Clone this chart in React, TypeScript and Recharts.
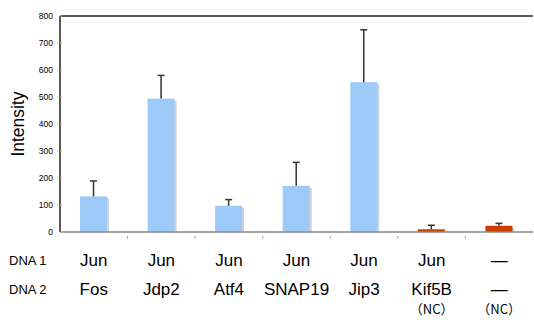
import React from "react";
import { BarChart, Bar, XAxis, YAxis, Cell, ReferenceLine } from "recharts";

const dna1 = ["Jun", "Jun", "Jun", "Jun", "Jun", "Jun", "—"];
const dna2 = ["Fos", "Jdp2", "Atf4", "SNAP19", "Jip3", "Kif5B", "—"];
const notes = ["", "", "", "", "", "（NC）", "（NC）"];
const values = [132, 494, 97, 171, 555, 10, 23];
const errorsUp = [57, 86, 23, 87, 194, 15, 9];
const barColors = ["#9ecafa", "#9ecafa", "#9ecafa", "#9ecafa", "#9ecafa", "#cc3d00", "#cc3d00"];
const yTicks = [0, 100, 200, 300, 400, 500, 600, 700, 800];

const data = dna2.map((name, i) => ({
  name,
  value: values[i],
  err: errorsUp[i],
}));

const FONT = "'Liberation Sans', Arial, sans-serif";
const CJK = "'Noto Sans CJK JP', sans-serif";

const ShadowBar = (props: any) => {
  const { x, y, width, height, fill, payload } = props;
  if (height <= 0) return null;
  const pxPerUnit = height / payload.value;
  const errTop = y - payload.err * pxPerUnit;
  const cx = x + width / 2;
  return (
    <g>
      <rect x={x + 2} y={y + 2} width={width} height={Math.max(0, height - 2)} fill="#d2d2d2" />
      <rect x={x} y={y} width={width} height={height} fill={fill} />
      <line x1={cx} x2={cx} y1={y} y2={errTop} stroke="#333" strokeWidth={1.5} />
      <line x1={cx - 3.5} x2={cx + 3.5} y1={errTop} y2={errTop} stroke="#333" strokeWidth={1.5} />
    </g>
  );
};

const XTick = (props: any) => {
  const { x, y, payload } = props;
  const i = payload.index;
  const band = 473 / 7;
  return (
    <g>
      {i < 6 && <line x1={x + band / 2} x2={x + band / 2} y1={y - 1} y2={y - 4} stroke="#aaa" />}
      {i === 0 && (
        <>
          <text x={9} y={265} fontSize={13} fontFamily={FONT} fill="#000">DNA 1</text>
          <text x={9} y={294} fontSize={13} fontFamily={FONT} fill="#000">DNA 2</text>
        </>
      )}
      <text x={x} y={266} textAnchor="middle" fontSize={17} fontFamily={FONT} fill="#000">{dna1[i]}</text>
      <text x={x} y={295} textAnchor="middle" fontSize={17} fontFamily={FONT} fill="#000">{dna2[i]}</text>
      {notes[i] && (
        <text x={x} y={314} textAnchor="middle" fontSize={13} fontFamily={CJK} fill="#000">{notes[i]}</text>
      )}
    </g>
  );
};

const YTick = (props: any) => {
  const { y, payload } = props;
  return (
    <g>
      <line x1={60} x2={62} y1={y} y2={y} stroke="#bbb" />
      <text x={53} y={y + 3} textAnchor="end" fontSize={8.5} fontFamily={FONT} fill="#000">{payload.value}</text>
    </g>
  );
};

export default function App() {
  return (
    <div style={{ position: "absolute", left: 0, top: 0, width: 534, height: 320, background: "#fff" }}>
      <BarChart width={534} height={320} data={data} margin={{ top: 16, right: 1, bottom: 0, left: 0 }} barSize={27}>
        <XAxis
          dataKey="name"
          interval={0}
          height={88}
          axisLine={{ stroke: "#888", strokeWidth: 1.5 }}
          tickLine={false}
          tick={<XTick />}
        />
        <YAxis
          domain={[0, 800]}
          ticks={yTicks}
          width={60}
          axisLine={{ stroke: "#222", strokeWidth: 1.5 }}
          tickLine={false}
          tick={<YTick />}
          label={{ value: "Intensity", angle: -90, position: "insideLeft", offset: 18, style: { fontSize: 17.5, fontFamily: FONT, fill: "#000", textAnchor: "middle" } }}
        />
        <ReferenceLine y={800} stroke="#222" strokeWidth={1.5} />
        <Bar dataKey="value" isAnimationActive={false} shape={<ShadowBar />}>
          {data.map((d, i) => (
            <Cell key={d.name + i} fill={barColors[i]} />
          ))}
        </Bar>
      </BarChart>
    </div>
  );
}
